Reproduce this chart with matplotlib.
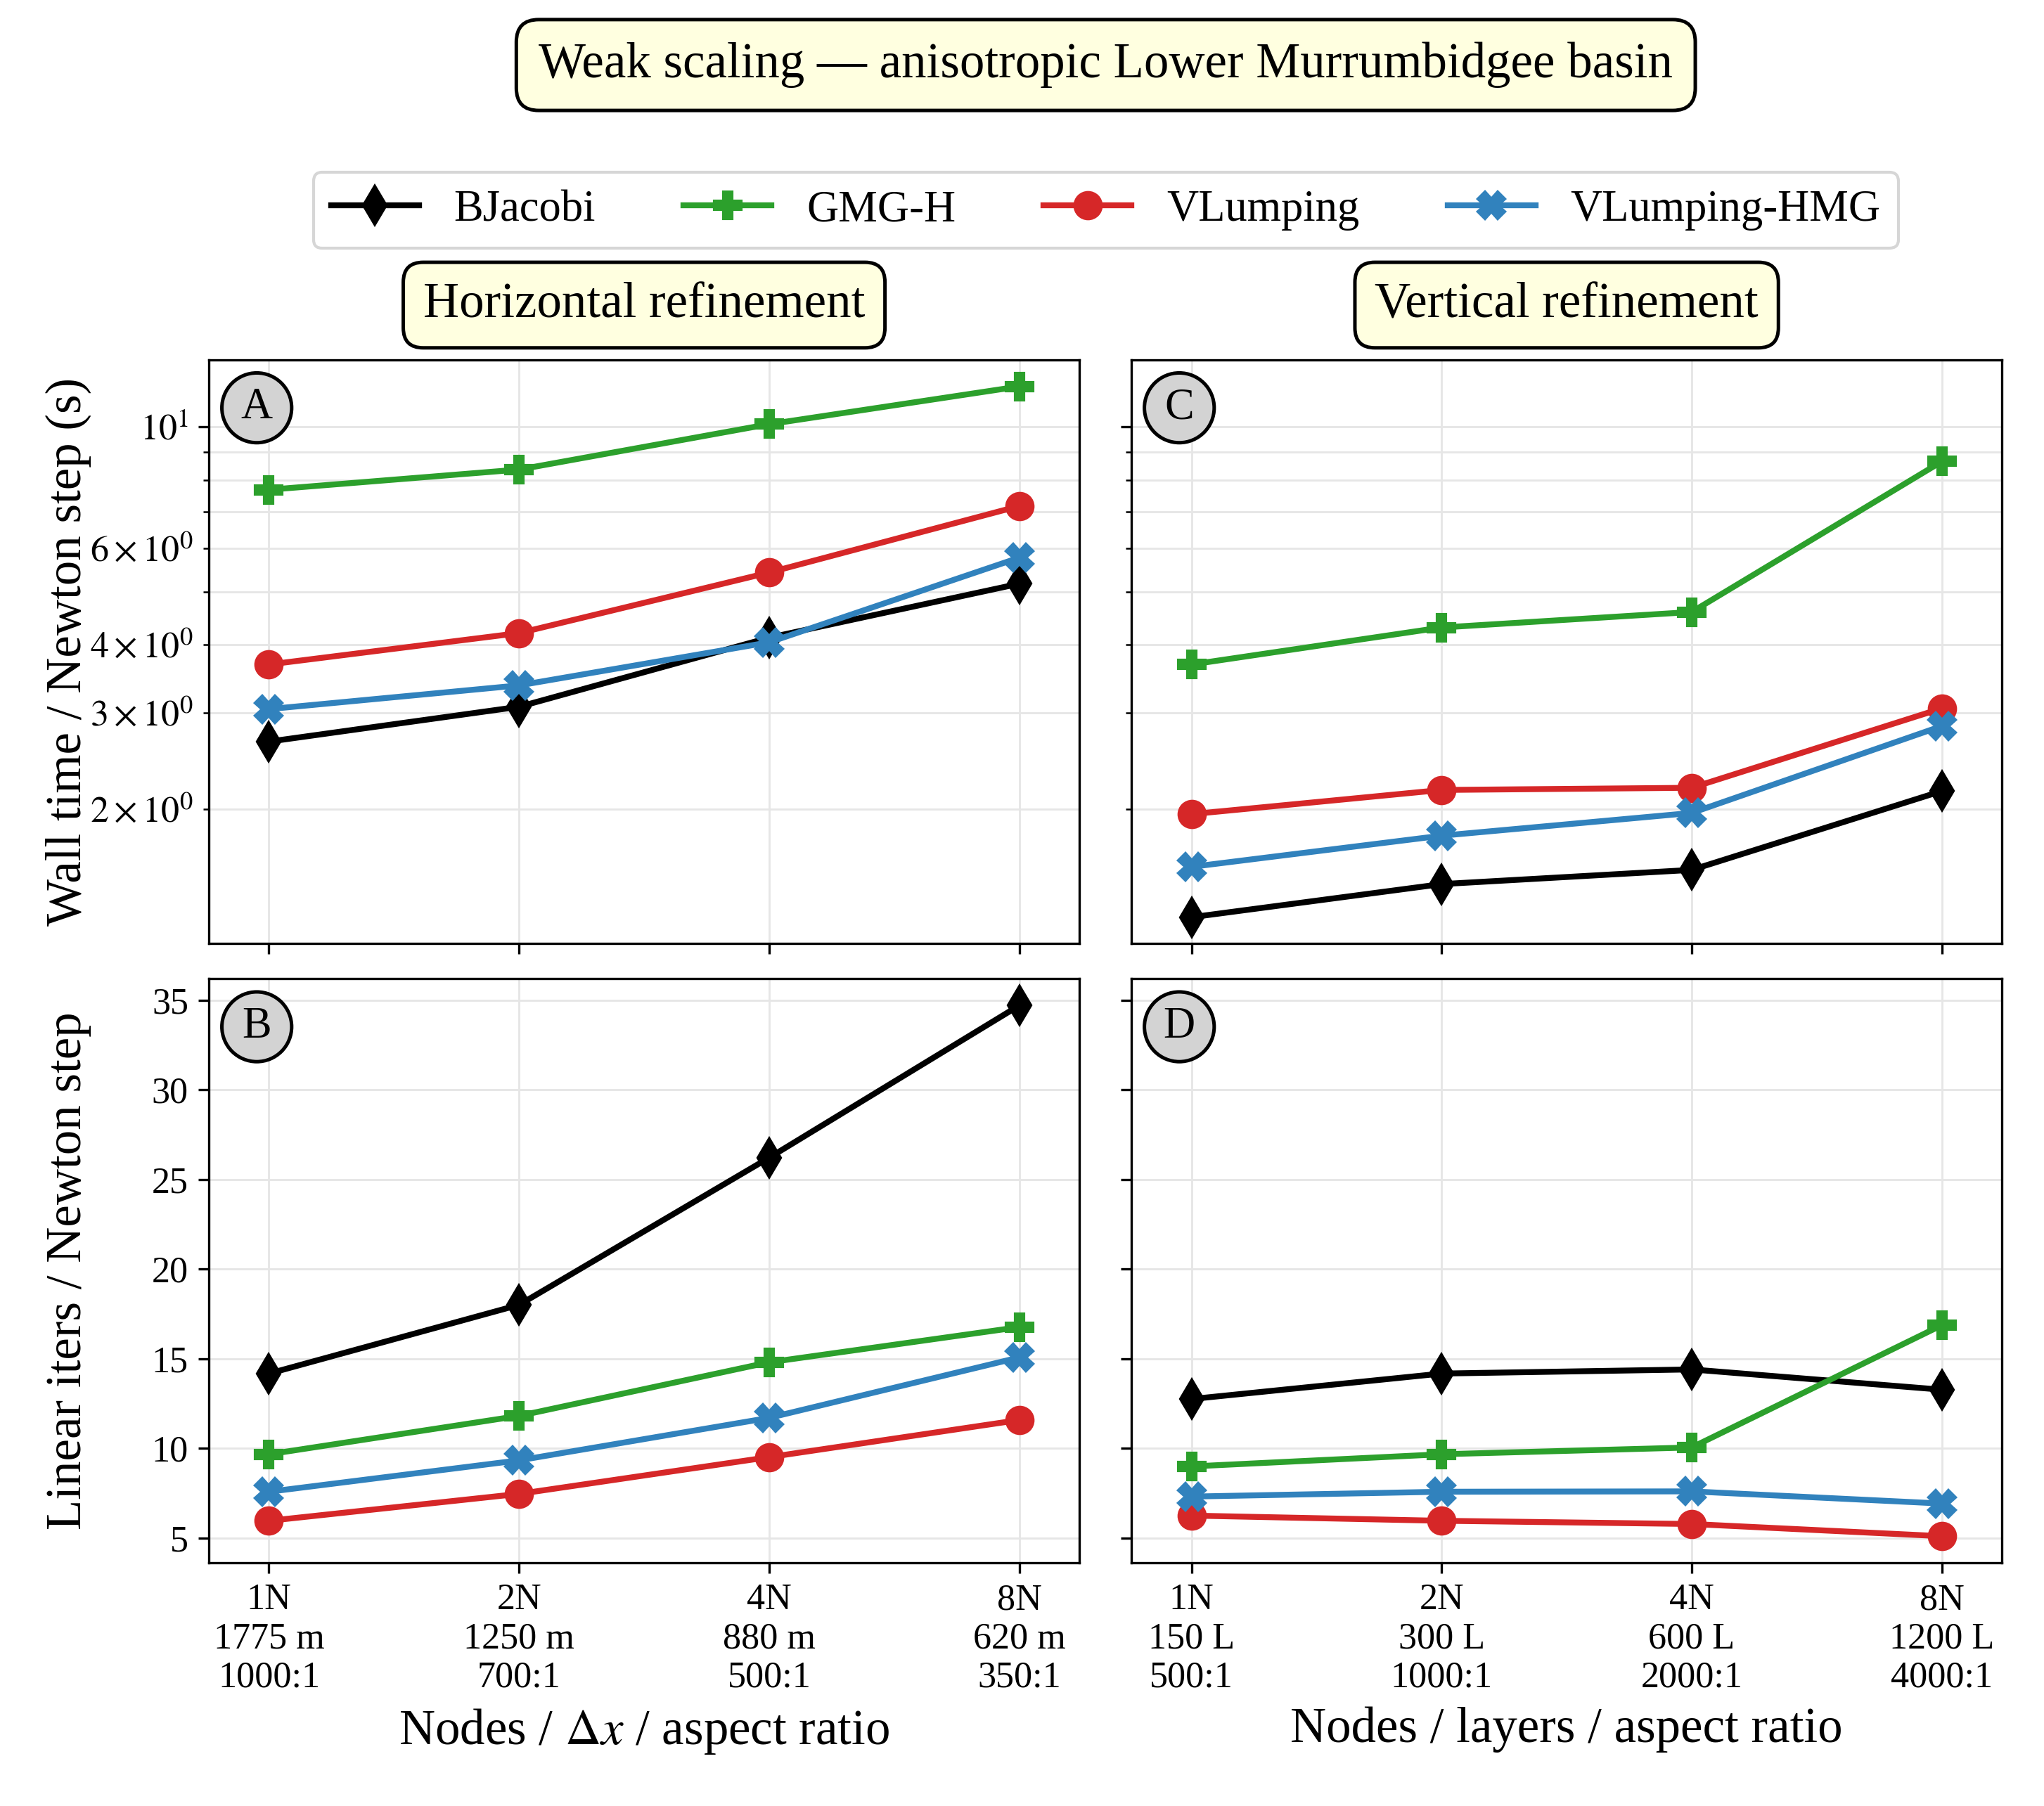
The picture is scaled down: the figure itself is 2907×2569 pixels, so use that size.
import math
import matplotlib
matplotlib.use('Agg')
import matplotlib.pyplot as plt
from matplotlib.ticker import FuncFormatter

plt.rcParams['font.family'] = ['Liberation Serif', 'DejaVu Serif']
plt.rcParams['mathtext.fontset'] = 'stix'

methods = ['BJacobi', 'GMG-H', 'VLumping', 'VLumping-HMG']
colors = ['black', '#2ca02c', '#d62728', '#3182bd']
markers = ['d', 'P', 'o', 'X']

h_ticklabels = ['1N\n1775 m\n1000:1', '2N\n1250 m\n700:1', '4N\n880 m\n500:1', '8N\n620 m\n350:1']
v_ticklabels = ['1N\n150 L\n500:1', '2N\n300 L\n1000:1', '4N\n600 L\n2000:1', '8N\n1200 L\n4000:1']

# Panel A: wall time / Newton step (s), horizontal refinement
time_h_bjacobi = [2.66, 3.08, 4.12, 5.17]
time_h_gmgh = [7.68, 8.36, 10.12, 11.86]
time_h_vlump = [3.68, 4.20, 5.42, 7.17]
time_h_hmg = [3.05, 3.37, 4.04, 5.77]

# Panel C: wall time / Newton step (s), vertical refinement
time_v_bjacobi = [1.27, 1.46, 1.55, 2.16]
time_v_gmgh = [3.68, 4.30, 4.59, 8.65]
time_v_vlump = [1.96, 2.17, 2.19, 3.06]
time_v_hmg = [1.57, 1.79, 1.97, 2.84]

# Panel B: linear iterations / Newton step, horizontal refinement
iters_h_bjacobi = [14.18, 18.01, 26.22, 34.71]
iters_h_gmgh = [9.68, 11.82, 14.81, 16.77]
iters_h_vlump = [5.97, 7.47, 9.52, 11.59]
iters_h_hmg = [7.59, 9.34, 11.71, 15.08]

# Panel D: linear iterations / Newton step, vertical refinement
iters_v_bjacobi = [12.76, 14.18, 14.41, 13.28]
iters_v_gmgh = [9.00, 9.68, 10.06, 16.88]
iters_v_vlump = [6.26, 5.97, 5.79, 5.11]
iters_v_hmg = [7.32, 7.59, 7.61, 6.93]

# mantissas that get a label on the log axis
labelled_mantissas = [1, 2, 3, 4, 6]

panels = {
    'A': [time_h_bjacobi, time_h_gmgh, time_h_vlump, time_h_hmg],
    'C': [time_v_bjacobi, time_v_gmgh, time_v_vlump, time_v_hmg],
    'B': [iters_h_bjacobi, iters_h_gmgh, iters_h_vlump, iters_h_hmg],
    'D': [iters_v_bjacobi, iters_v_gmgh, iters_v_vlump, iters_v_hmg],
}


def log_label(v, pos):
    if v <= 0:
        return ''
    exp = math.floor(math.log10(v) + 1e-9)
    coeff = round(v / 10 ** exp, 6)
    if abs(coeff - round(coeff)) > 1e-6:
        return ''
    coeff = int(round(coeff))
    if coeff not in labelled_mantissas:
        return ''
    if coeff == 1:
        return r'$10^{%d}$' % exp
    return r'$%d \times 10^{%d}$' % (coeff, exp)


fig, axes = plt.subplots(2, 2, figsize=(2907 / 300, 2569 / 300), dpi=300,
                         sharey='row', sharex='col')
fig.subplots_adjust(left=0.1022, right=0.9794, top=0.8007, bottom=0.1347,
                    hspace=0.0602, wspace=0.0598)

layout = {'A': axes[0, 0], 'C': axes[0, 1], 'B': axes[1, 0], 'D': axes[1, 1]}
x = list(range(len(h_ticklabels)))

handles = []
for key, ax in layout.items():
    for i, series in enumerate(panels[key]):
        ln, = ax.plot(x, series, color=colors[i], marker=markers[i], lw=2,
                      markersize=9, label=methods[i])
        if key == 'A':
            handles.append(ln)
    ax.grid(True, which='both', color='0.9', lw=0.7)
    ax.set_axisbelow(True)
    ax.text(0.055, 0.918, key, transform=ax.transAxes, ha='center', va='center',
            fontsize=15, zorder=10,
            bbox=dict(boxstyle='circle,pad=0.33', fc='lightgray', ec='black', lw=1.2))

for ax in (axes[0, 0], axes[0, 1]):
    ax.set_yscale('log')
    ax.yaxis.set_major_formatter(FuncFormatter(log_label))
    ax.yaxis.set_minor_formatter(FuncFormatter(log_label))

for ax in axes.flat:
    ax.tick_params(which='both', labelsize=12.5)

for ax in axes[0, :]:
    ax.set_xlim(-0.24, 3.24)

axes[1, 0].set_xticks(x)
axes[1, 0].set_xticklabels(h_ticklabels)
axes[1, 1].set_xticks(x)
axes[1, 1].set_xticklabels(v_ticklabels)

axes[1, 0].set_xlabel(r'Nodes / $\Delta x$ / aspect ratio', fontsize=17)
axes[1, 1].set_xlabel('Nodes / layers / aspect ratio', fontsize=17)
axes[0, 0].set_ylabel('Wall time / Newton step (s)', fontsize=17)
axes[1, 0].set_ylabel('Linear iters / Newton step', fontsize=17)
axes[0, 0].yaxis.set_label_coords(-0.135, 0.5)
axes[1, 0].yaxis.set_label_coords(-0.135, 0.5)

box = dict(boxstyle='round,pad=0.4', fc='lightyellow', ec='black', lw=1.2)
axes[0, 0].text(0.5, 1.094, 'Horizontal refinement', transform=axes[0, 0].transAxes,
                ha='center', va='center', fontsize=17, bbox=box)
axes[0, 1].text(0.5, 1.094, 'Vertical refinement', transform=axes[0, 1].transAxes,
                ha='center', va='center', fontsize=17, bbox=box)

fig.text(0.541, 0.964, 'Weak scaling — anisotropic Lower Murrumbidgee basin',
         ha='center', va='center', fontsize=17,
         bbox=dict(boxstyle='round,pad=0.45', fc='lightyellow', ec='black', lw=1.2))

fig.legend(handles, methods, loc='center', bbox_to_anchor=(0.541, 0.8836), ncol=4,
           fontsize=15)

fig.savefig('out.png', dpi=300)
